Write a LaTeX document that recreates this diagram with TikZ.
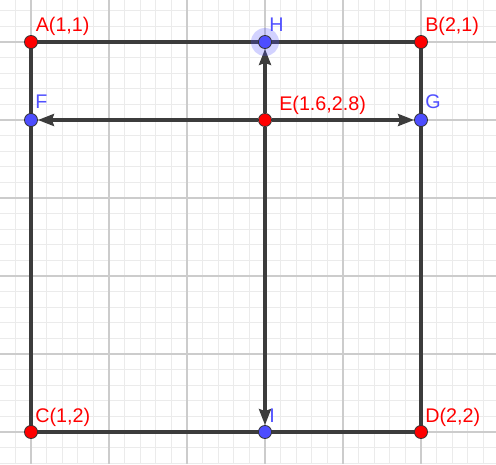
\documentclass[tikz,border=0pt]{standalone}
\usepackage{fontspec}
\setmainfont{Liberation Sans}
\usetikzlibrary{arrows.meta}
\pgfdeclarelayer{bg}
\pgfsetlayers{bg,main}
\definecolor{gridminor}{HTML}{EBEBEB}
\definecolor{gridmajor}{HTML}{CCCCCC}
\definecolor{segc}{HTML}{3C3C3C}
\definecolor{ptred}{HTML}{FF0000}
\definecolor{ptblue}{HTML}{4D4DFF}
\definecolor{labred}{HTML}{FF0000}
\definecolor{labblue}{HTML}{5050FF}
\tikzset{
  minorline/.style={draw=gridminor, line width=0.9pt},
  majorline/.style={draw=gridmajor, line width=0.9pt},
  seg/.style={draw=segc, line width=2.35pt},
  vec/.style={draw=segc, line width=2.35pt, -{Stealth[length=12pt,width=9pt,inset=1.5pt]}},
  pt/.style={circle, draw=black!80, line width=0.6pt, minimum size=9.8pt, inner sep=0pt},
  redpt/.style={pt, fill=ptred},
  bluept/.style={pt, fill=ptblue},
  lab/.style={anchor=base west, inner sep=0pt, font=\fontsize{14.8pt}{16pt}\selectfont},
  redlab/.style={lab, text=labred},
  bluelab/.style={lab, text=labblue},
}
\begin{document}
\begin{tikzpicture}[x=0.75pt, y=-0.75pt]
\useasboundingbox (0,0) rectangle (496,464);
\begin{pgfonlayer}{bg}
  \fill[white] (0,0) rectangle (496,464);
  \foreach \i in {-2,...,30} {
    \draw[minorline] ({31+15.6*\i},0) -- ({31+15.6*\i},464);
  }
  \foreach \i in {-2,...,28} {
    \draw[minorline] (0,{42+15.6*\i}) -- (496,{42+15.6*\i});
  }
  \foreach \i in {0,...,6} {
    \draw[majorline] ({31+78*\i},0) -- ({31+78*\i},464);
  }
  \foreach \i in {0,...,5} {
    \draw[majorline] (0,{42+78*\i}) -- (496,{42+78*\i});
  }
\end{pgfonlayer}

% halo of H
\fill[ptblue, opacity=0.25] (265,42) circle[radius=14];

% points
\node[redpt] (A) at (31,42) {};
\node[redpt] (B) at (421,42) {};
\node[redpt] (C) at (31,432) {};
\node[redpt] (D) at (421,432) {};
\node[redpt] (E) at (265,120) {};
\node[bluept] (F) at (31,120) {};
\node[bluept] (G) at (421,120) {};
\node[bluept] (H) at (265,42) {};
\node[bluept] (I) at (265,432) {};

\begin{pgfonlayer}{bg}
  \draw[seg] (A.center) -- (H.center) -- (B.center) -- (G.center) -- (D.center) -- (I.center) -- (C.center) -- (F.center) -- (A.center);
  \draw[vec] (E) -- (F);
  \draw[vec] (E) -- (G);
  \draw[vec] (E) -- (H);
  \draw[vec] (E) -- (I);
\end{pgfonlayer}

% labels
\node[redlab] (lA) at (35.5,31.5) {A(1,1)};
\node[bluelab] (lH) at (269,31.5) {H};
\node[redlab] (lB) at (425,31.5) {B(2,1)};
\node[bluelab] (lF) at (35,108.5) {F};
\node[redlab] (lE) at (279,110) {E(1.6,2.8)};
\node[bluelab] (lG) at (425,108.5) {G};
\node[redlab] (lC) at (35,422.5) {C(1,2)};
\node[bluelab] (lI) at (269,422.5) {I};
\node[redlab] (lD) at (425,422.5) {D(2,2)};
\end{tikzpicture}
\end{document}
